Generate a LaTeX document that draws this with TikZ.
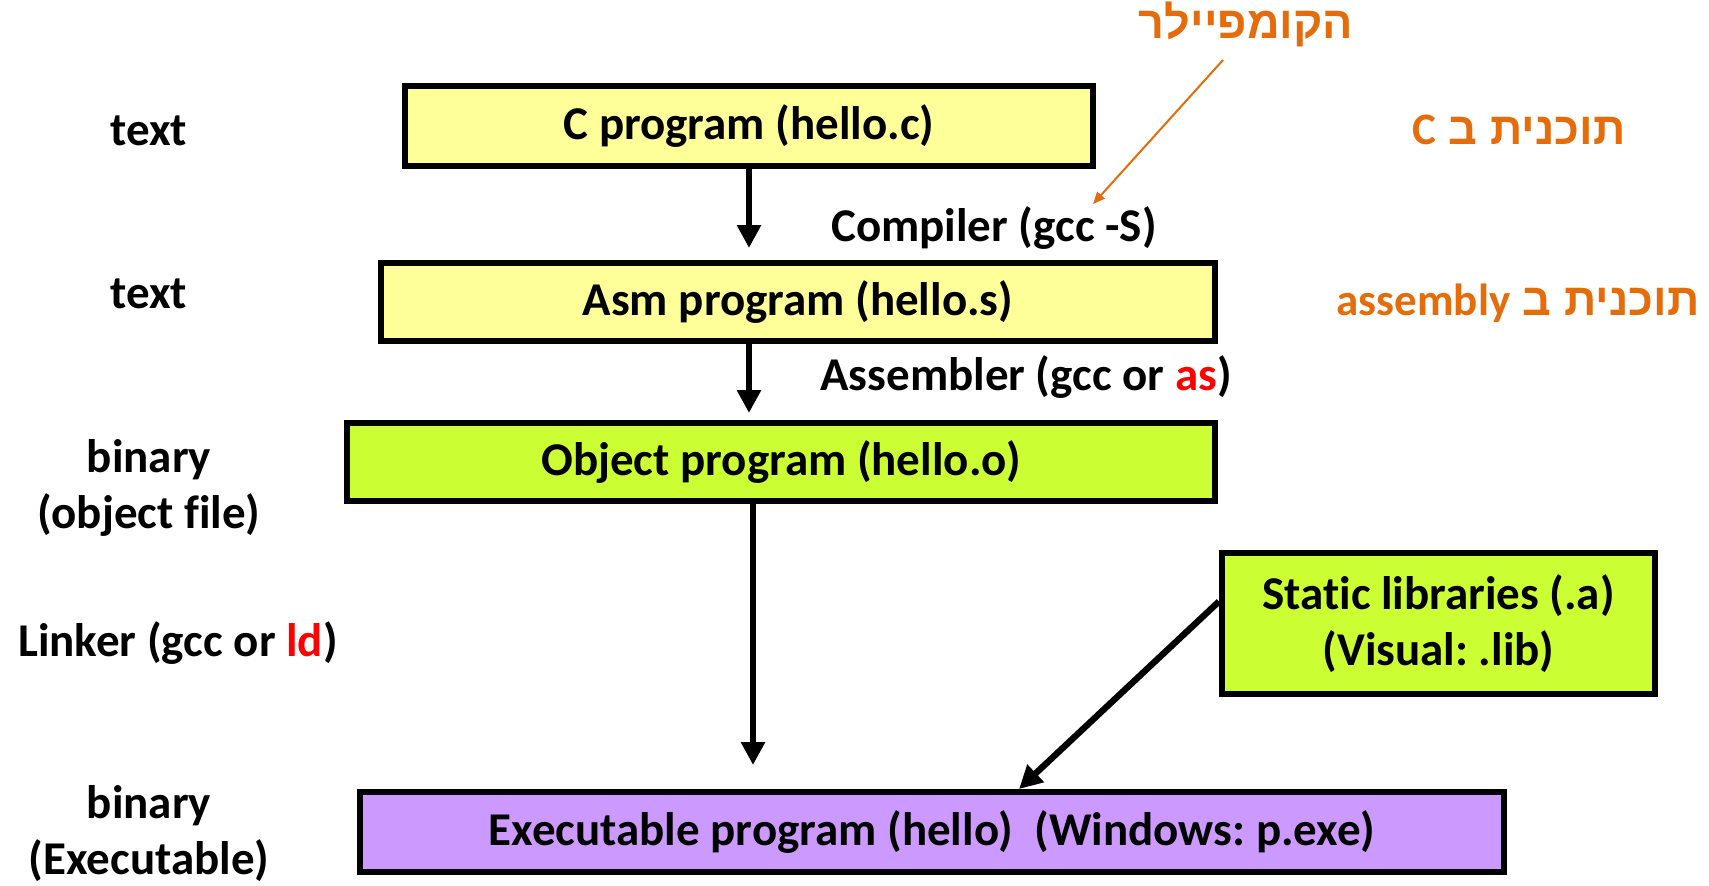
\documentclass[tikz,border=0pt]{standalone}
\usepackage{fontspec}
\setmainfont{Carlito}[BoldFont={Carlito Bold},RawFeature=-liga]
\newfontfamily\hebfont[Script=Hebrew]{Liberation Sans}
\newfontfamily\latfont{Carlito}[RawFeature=-liga]
\TeXXeTstate=1
\frenchspacing
\usetikzlibrary{arrows.meta,calc}
\definecolor{boxyellow}{HTML}{FFFF99}
\definecolor{boxgreen}{HTML}{CCFF33}
\definecolor{boxpurple}{HTML}{CC99FF}
\definecolor{heborange}{HTML}{E46C0A}
\definecolor{hotred}{HTML}{FF0000}
\tikzset{
  txt/.style={font=\fontsize{23.5}{28}\selectfont\bfseries, inner sep=0pt, align=center},
  hebtxt/.style={font=\fontsize{22.5}{26}\selectfont\hebfont\bfseries, text=heborange, inner sep=0pt},
  stage/.style={txt, draw=black, line width=3pt},
  arr/.style={line width=3.2pt, -{Triangle[width=11.5pt,length=11.5pt]}},
  oarr/.style={line width=1pt, draw=heborange, -{Triangle[width=5pt,length=6pt]}}
}
\begin{document}
\frenchspacing
\begin{tikzpicture}[x=0.5pt,y=-0.5pt]
\useasboundingbox (0,0) rectangle (1709,885);
% boxes (sizes in pt = half of pixels)
\node[stage, fill=boxyellow, minimum width=344pt, minimum height=40pt] (cprog) at (749,126) {C program (hello.c)};
\node[stage, fill=boxyellow, minimum width=417pt, minimum height=39pt] (asm) at (798,302) {Asm program (hello.s)};
\node[stage, fill=boxgreen, minimum width=434pt, minimum height=39pt] (obj) at (781,462) {Object program (hello.o)};
\node[stage, fill=boxgreen, minimum width=216.5pt, minimum height=70.5pt] (lib) at (1438.5,623.5) {Static libraries (.a)\\(Visual: .lib)};
\node[stage, fill=boxpurple, minimum width=572pt, minimum height=40pt] (exe) at (932,832) {Executable program (hello)\ \ (Windows: p.exe)};
% step labels
\node[txt] (comp) at (994,228) {Compiler (gcc -S)};
\node[txt, anchor=west] (assem) at (820,377) {Assembler (gcc or \textcolor{hotred}{as})};
\node[txt] (link) at (178,643) {Linker (gcc or \textcolor{hotred}{ld})};
% left type labels
\node[txt] (t1) at (149,131) {text};
\node[txt] (t2) at (149,294) {text};
\node[txt] (t3) at (149,488) {binary\\(object file)};
\node[txt] (t4) at (149,834) {binary\\(Executable)};
% Hebrew labels
\node[hebtxt] (hcomp) at (1246,24) {\beginR הקומפיילר\endR};
\node[hebtxt] (hc) at (1519,130) {\beginR תוכנית ב {\latfont\bfseries C}\endR};
\node[hebtxt] (hasm) at (1518,303) {\beginR תוכנית ב \beginL{\latfont\bfseries assembly}\endL\endR};
% columns
\coordinate (colA) at (749,0);
\coordinate (colB) at (753,0);
\coordinate (libtip) at (1019,0);
\coordinate (ostart) at (1223,60);
\coordinate (oend) at (1093,204);
% arrows
\draw[arr, shorten >=6pt] (cprog.south -| colA) -- (asm.north -| colA);
\draw[arr, shorten >=3.5pt] (asm.south -| colA) -- (obj.north -| colA);
\draw[arr, shorten >=12pt] (obj.south -| colB) -- (exe.north -| colB);
\draw[arr] ($(lib.north west)!0.35!(lib.south west)$) -- (exe.north -| libtip);
\draw[oarr] (ostart) -- (oend);
\end{tikzpicture}
\end{document}
